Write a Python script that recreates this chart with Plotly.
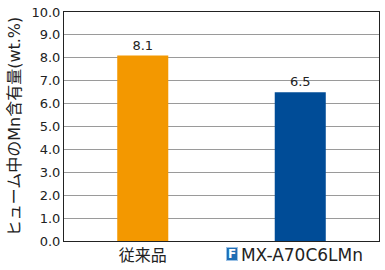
import plotly.graph_objects as go

categories = ["従来品", "<span style='font-size:17px'>\u2009MX-A70C6LMn</span>"]
values = [8.1, 6.5]
colors = ["#F39800", "#004C97"]
ytick_vals = [0, 1, 2, 3, 4, 5, 6, 7, 8, 9, 10]
ytick_text = ["0.0", "1.0", "2.0", "3.0", "4.0", "5.0", "6.0", "7.0", "8.0", "9.0", "10.0"]
y_title = "ヒューム中のMn含有量(wt.%)"

font_family = "DejaVu Sans, Noto Sans CJK JP, sans-serif"

fig = go.Figure()
fig.add_trace(go.Bar(
    x=[0, 1],
    y=values,
    marker=dict(color=colors, line=dict(width=0)),
    text=[f"{v:.1f}" for v in values],
    textposition="outside",
    textfont=dict(size=13, color="#222", family=font_family),
    cliponaxis=False,
))

fig.update_layout(
    width=385, height=270,
    margin=dict(l=64, r=5, t=8, b=24),
    paper_bgcolor="white", plot_bgcolor="white",
    bargap=0.676,
    showlegend=False,
    font=dict(family=font_family, color="#222"),
)
fig.update_xaxes(
    range=[-0.5, 1.5],
    tickmode="array", tickvals=[0, 1], ticktext=categories,
    tickfont=dict(size=16, color="#222"),
    showline=True, linecolor="#222", linewidth=1, mirror=True,
    ticks="", showgrid=False, zeroline=False,
)
fig.update_yaxes(
    range=[-0.0001, 10.0001],
    tickmode="array", tickvals=ytick_vals, ticktext=ytick_text,
    tickfont=dict(size=13, color="#222"),
    showline=True, linecolor="#222", linewidth=1, mirror=True,
    showgrid=True, gridcolor="#9a9a9a", gridwidth=1,
    ticks="", zeroline=False,
    title=dict(text=y_title, font=dict(size=16, color="#222"), standoff=6),
)

# boxed "F" logo in front of the second category label
fig.add_annotation(
    x=1, y=0, xref="x", yref="y",
    text="<b>F</b>", showarrow=False,
    font=dict(size=12, color="white", family="DejaVu Sans"),
    bgcolor="#1F6DB5", bordercolor="#9cc2e6", borderwidth=1, borderpad=0,
    width=10, height=12,
    xshift=-68, yshift=-13,
)

fig.write_html("out.html")
